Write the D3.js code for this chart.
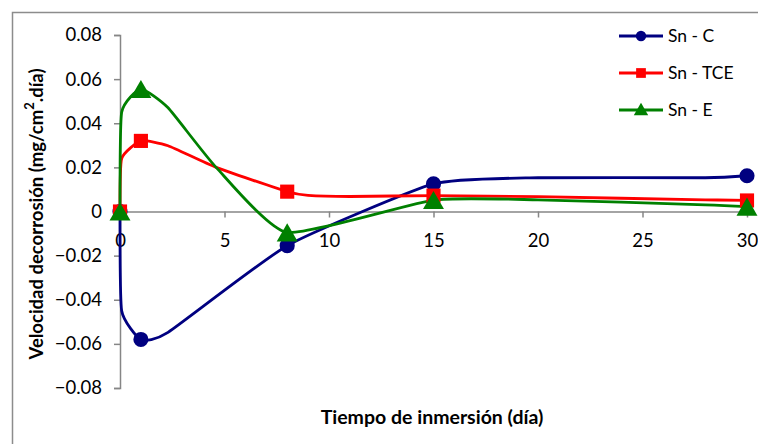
<!DOCTYPE html>
<html><head><meta charset="utf-8">
<script src="https://cdn.jsdelivr.net/npm/d3@7"></script>
<style>body{margin:0;background:#fff}svg{display:block}</style>
</head><body><svg id="c" width="758" height="444"></svg>
<script>
// ---- data ----
const xTicks = [0, 5, 10, 15, 20, 25, 30];
const yTicks = [-0.08, -0.06, -0.04, -0.02, 0, 0.02, 0.04, 0.06, 0.08];
const seriesNames = ["Sn - C", "Sn - TCE", "Sn - E"];
const markerDays = [0, 1, 8, 15, 30];
const cDays = [0, 0.08, 1, 2.3, 8, 15, 20, 28, 30];
const cValues = [0, -0.045, -0.058, -0.0548, -0.0155, 0.0125, 0.0153, 0.0153, 0.0162];
const tceDays = [0, 0.08, 1, 2.3, 4.6, 8, 9, 11, 15, 20, 28, 30];
const tceValues = [0, 0.024, 0.032, 0.0298, 0.020, 0.009, 0.0073, 0.0068, 0.0072, 0.0067, 0.0053, 0.005];
const eDays = [0, 0.08, 1, 2.3, 4.6, 8, 15, 20, 28, 30];
const eValues = [0, 0.045, 0.0555, 0.047, 0.020, -0.0095, 0.0052, 0.0053, 0.003, 0.0022];

const svg = d3.select("#c");
const FONT = "Lato, 'Open Sans', sans-serif";
svg.append("rect").attr("x", 12.5).attr("y", 12.5).attr("width", 800).attr("height", 500)
  .attr("fill", "#fff").attr("stroke", "#8c8c8c").attr("stroke-width", 1.5);

const x = d3.scaleLinear().domain([0, 30]).range([120, 747]);
const y = d3.scaleLinear().domain([-0.08, 0.08]).range([388, 35]);

// y axis
const yAxis = svg.append("g").attr("transform", `translate(${x(0)},0)`)
  .call(d3.axisLeft(y).tickValues(yTicks).tickSize(6).tickPadding(12)
    .tickFormat(d => d === 0 ? "0" : d3.format(".2f")(d)));
yAxis.select(".domain").attr("stroke", "#868686").attr("stroke-width", 1.5);
yAxis.selectAll(".tick line").attr("stroke", "#868686").attr("stroke-width", 1.5);
yAxis.selectAll("text").attr("font-family", FONT).attr("font-size", 18.5).attr("fill", "#000");

// x axis at y=0
const xAxis = svg.append("g").attr("transform", `translate(0,${y(0)})`)
  .call(d3.axisBottom(x).tickValues(xTicks).tickSize(6).tickPadding(16).tickSizeOuter(0));
xAxis.select(".domain").attr("stroke", "#868686").attr("stroke-width", 1.5);
xAxis.selectAll(".tick line").attr("stroke", "#868686").attr("stroke-width", 1.5);
xAxis.selectAll("text").attr("font-family", FONT).attr("font-size", 18.5).attr("fill", "#000");

// titles
svg.append("text").attr("x", 432).attr("y", 424).attr("text-anchor", "middle")
  .attr("font-family", FONT).attr("font-weight", "bold").attr("font-size", 19.5)
  .text("Tiempo de inmersión (día)");
const yt = svg.append("text").attr("transform", "translate(43,214) rotate(-90)")
  .attr("text-anchor", "middle").attr("font-family", FONT).attr("font-weight", "bold").attr("font-size", 18.5);
yt.append("tspan").text("Velocidad decorrosión (mg/cm");
yt.append("tspan").attr("font-size", 13).attr("dy", -9).text("2");
yt.append("tspan").attr("dy", 9).text(".día)");

const colors = ["#000080", "#ff0000", "#008000"];
const shapes = [d3.symbolCircle, d3.symbolSquare, d3.symbolTriangle];
const data = [[cDays, cValues], [tceDays, tceValues], [eDays, eValues]];
const line = d3.line().x(d => x(d[0])).y(d => y(d[1])).curve(d3.curveCardinal.tension(0.5));

data.forEach(([days, vals], i) => {
  const pts = days.map((d, k) => [d, vals[k]]);
  svg.append("path").datum(pts).attr("d", line).attr("fill", "none")
    .attr("stroke", colors[i]).attr("stroke-width", 2.8).attr("stroke-linejoin", "round");
});
data.forEach(([days, vals], i) => {
  const pts = days.map((d, k) => [d, vals[k]]).filter(p => markerDays.includes(p[0]));
  const sizes = [180, 200, 190];
  svg.selectAll(null).data(pts).enter().append("path")
    .attr("d", d3.symbol().type(shapes[i]).size(sizes[i]))
    .attr("transform", p => `translate(${x(p[0])},${y(p[1]) + (i === 2 ? 3 : 0)})`)
    .attr("fill", colors[i]);
});

// legend
const lg = svg.append("g");
seriesNames.forEach((n, i) => {
  const ly = 36 + i * 37;
  lg.append("line").attr("x1", 619).attr("x2", 663).attr("y1", ly).attr("y2", ly)
    .attr("stroke", colors[i]).attr("stroke-width", 3);
  lg.append("path").attr("d", d3.symbol().type(shapes[i]).size([85, 95, 90][i]))
    .attr("transform", `translate(641,${ly + (i === 2 ? 1 : 0)})`).attr("fill", colors[i]);
  lg.append("text").attr("x", 668).attr("y", ly).attr("dy", "0.35em")
    .attr("font-family", FONT).attr("font-size", 17.5).attr("fill", "#000").text(n);
});
</script></body></html>
